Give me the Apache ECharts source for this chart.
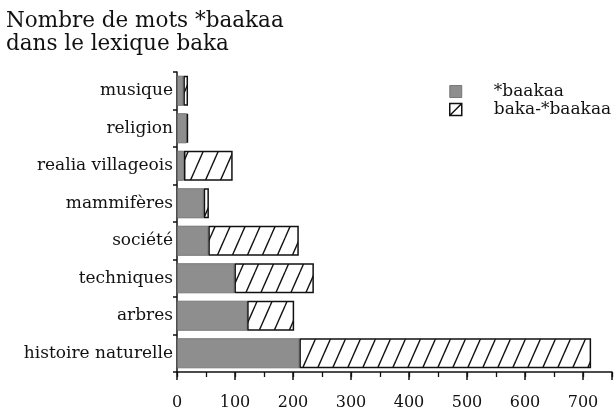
<!DOCTYPE html>
<html>
<head>
<meta charset="utf-8">
<script src="https://cdn.jsdelivr.net/npm/echarts@6/dist/echarts.min.js"></script>
<style>
html,body{margin:0;padding:0;background:#fff;}
#c{width:616px;height:411px;}
</style>
</head>
<body>
<div id="c"></div>
<script>
var titleText = 'Nombre de mots *baakaa\ndans le lexique baka';
var categories = ['musique', 'religion', 'realia villageois', 'mammifères', 'société', 'techniques', 'arbres', 'histoire naturelle'];
var seriesNames = ['*baakaa', 'baka-*baakaa'];
var baakaa = [11, 17, 12, 46, 54, 99, 121, 211];
var bakaBaakaa = [8, 2, 84, 9, 156, 137, 81, 503];
var xTickLabels = [0, 100, 200, 300, 400, 500, 600, 700];

var FONT = 'DejaVu Serif';

function hatchCanvas(w, h, lw) {
  var cv = document.createElement('canvas');
  cv.width = w; cv.height = h;
  var ctx = cv.getContext('2d');
  ctx.fillStyle = '#fff';
  ctx.fillRect(0, 0, w, h);
  ctx.strokeStyle = '#111';
  ctx.lineWidth = lw;
  for (var k = -1; k <= 1; k++) {
    ctx.beginPath();
    ctx.moveTo(k * w, h);
    ctx.lineTo(k * w + w, 0);
    ctx.stroke();
  }
  return cv;
}
var hatch = hatchCanvas(15, 34, 1.4);

var chart = echarts.init(document.getElementById('c'), null, {renderer: 'canvas'});
chart.setOption({
  animation: false,
  backgroundColor: '#fff',
  title: {
    text: titleText,
    left: 3, top: 7,
    padding: [3, 3, 3, 3],
    textStyle: {fontFamily: FONT, fontSize: 21.5, fontWeight: 'normal', color: '#111', lineHeight: 23}
  },
  legend: {
    orient: 'vertical',
    left: 449, top: 83,
    padding: 0,
    itemWidth: 12, itemHeight: 12,
    itemGap: 1,
    textStyle: {fontFamily: FONT, fontSize: 17, color: '#111', padding: [0, 0, 0, 27], lineHeight: 17},
    data: [
      {name: seriesNames[0], icon: 'rect', itemStyle: {color: '#8e8e8e', borderColor: '#666', borderWidth: 0.8}},
      {name: seriesNames[1], icon: 'path://M0,0H12V12H0Z M0,12L12,0', itemStyle: {color: '#fff', borderColor: '#111', borderWidth: 1.5}}
    ]
  },
  grid: {left: 177, right: 4, top: 72, bottom: 39, containLabel: false},
  xAxis: [{
    type: 'value', min: 0, max: 750, interval: 100,
    axisLine: {show: true, lineStyle: {color: '#111', width: 1.5}},
    axisTick: {show: true, length: 8, lineStyle: {color: '#111', width: 1.5}},
    splitLine: {show: false},
    axisLabel: {
      fontFamily: FONT, fontSize: 16, color: '#111', margin: 23,
      formatter: function (v) { return xTickLabels.indexOf(v) >= 0 ? String(v) : ''; }
    }
  }, {
    type: 'value', min: 0, max: 750, interval: 50, position: 'bottom',
    axisLine: {show: false},
    axisTick: {show: true, length: 5, lineStyle: {color: '#111', width: 1.3}},
    splitLine: {show: false},
    axisLabel: {show: false}
  }],
  yAxis: {
    type: 'category', data: categories, inverse: true,
    axisLine: {show: true, lineStyle: {color: '#111', width: 1.5}},
    axisTick: {show: true, length: 4, lineStyle: {color: '#111', width: 1.5}},
    axisLabel: {fontFamily: FONT, fontSize: 17, color: '#111', margin: 4}
  },
  series: [{
    name: seriesNames[0], type: 'bar', stack: 's', data: baakaa,
    barCategoryGap: '20%',
    itemStyle: {color: '#8e8e8e', borderColor: '#6a6a6a', borderWidth: 0.8}
  }, {
    name: seriesNames[1], type: 'bar', stack: 's', data: bakaBaakaa,
    barCategoryGap: '20%',
    itemStyle: {color: {image: hatch, repeat: 'repeat'}, borderColor: '#111', borderWidth: 1.5}
  }]
});
</script>
</body>
</html>
